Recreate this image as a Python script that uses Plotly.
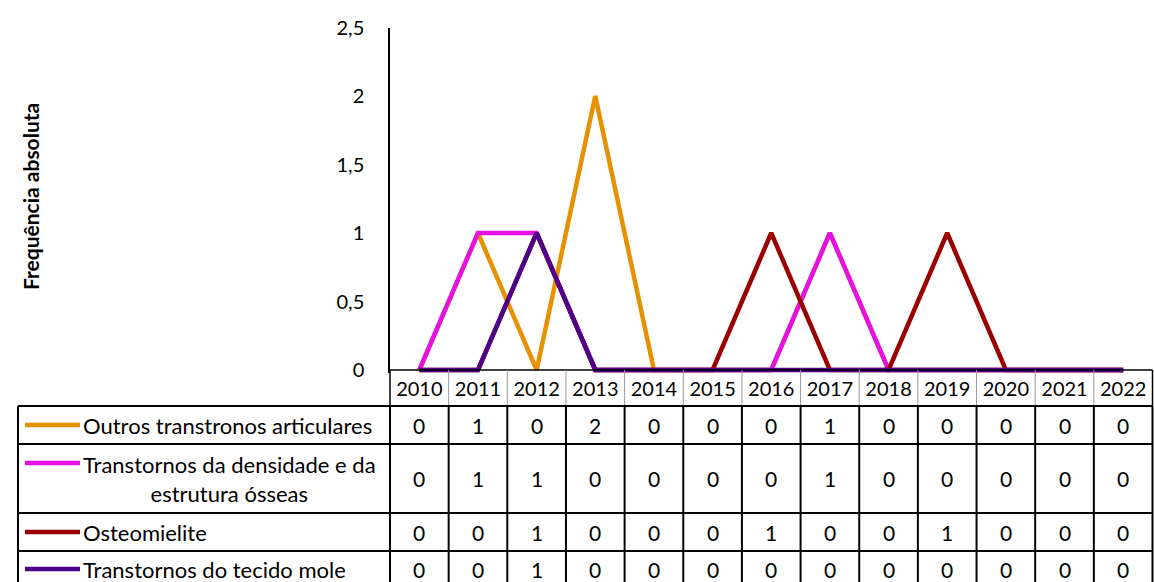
import plotly.graph_objects as go

# data
years = ["2010", "2011", "2012", "2013", "2014", "2015", "2016",
         "2017", "2018", "2019", "2020", "2021", "2022"]
series_names = ["Outros transtronos articulares",
                "Transtornos da densidade e da estrutura ósseas",
                "Osteomielite",
                "Transtornos do tecido mole"]
series_labels = ["Outros transtronos articulares",
                 "Transtornos da densidade e da<br>estrutura ósseas",
                 "Osteomielite",
                 "Transtornos do tecido mole"]
outros = [0, 1, 0, 2, 0, 0, 0, 1, 0, 0, 0, 0, 0]
densidade = [0, 1, 1, 0, 0, 0, 0, 1, 0, 0, 0, 0, 0]
osteomielite = [0, 0, 1, 0, 0, 0, 1, 0, 0, 1, 0, 0, 0]
tecido_mole = [0, 0, 1, 0, 0, 0, 0, 0, 0, 0, 0, 0, 0]
series_values = [outros, densidade, osteomielite, tecido_mole]
colors = ["#E69100", "#E60FE6", "#9B0000", "#4F0089"]

W, H = 1154, 582
FONT = "Lato"


def px(x):
    return x / W


def py(y):
    return 1 - y / H


# geometry in pixels
X0, X1 = 390, 1152.5           # plot / table columns
Y_TOP, Y_ZERO = 27.5, 370      # y=2.5 and y=0
unit = (Y_ZERO - Y_TOP) / 2.5
ymin = -0.025
Y_BOT = Y_ZERO - ymin * unit
row_edges = [406, 444, 513, 551, 590]
LEFT = 18
ncol = len(years)
cw = (X1 - X0) / ncol

fig = go.Figure()
for name, vals, col in zip(series_names, series_values, colors):
    fig.add_trace(go.Scatter(
        x=years, y=vals, name=name, mode="lines",
        line=dict(color=col, width=4.5),
        hovertemplate="%{x}: %{y}<extra>" + name + "</extra>",
    ))

shapes = []
# header top line
shapes.append(dict(type="line", xref="paper", yref="paper",
                   x0=px(X0), x1=px(X1), y0=py(Y_ZERO), y1=py(Y_ZERO),
                   line=dict(color="black", width=1.5)))
# header verticals
for k in range(ncol + 1):
    edge = k in (0, ncol)
    shapes.append(dict(type="line", xref="paper", yref="paper",
                       x0=px(X0 + k * cw), x1=px(X0 + k * cw),
                       y0=py(Y_ZERO), y1=py(row_edges[0]),
                       line=dict(color="black" if edge else "#9a9a9a",
                                 width=1.5 if edge else 1)))
# body horizontals
for y in row_edges[:-1]:
    shapes.append(dict(type="line", xref="paper", yref="paper",
                       x0=px(LEFT), x1=px(X1), y0=py(y), y1=py(y),
                       line=dict(color="black", width=2)))
# body verticals
for xpos in [LEFT] + [X0 + k * cw for k in range(ncol + 1)]:
    shapes.append(dict(type="line", xref="paper", yref="paper",
                       x0=px(xpos), x1=px(xpos),
                       y0=py(row_edges[0]), y1=py(row_edges[-1]),
                       line=dict(color="black", width=2)))

annotations = []
for r, (label, vals, col) in enumerate(zip(series_labels, series_values, colors)):
    yc = (row_edges[r] + row_edges[r + 1]) / 2
    if r == len(series_labels) - 1:
        yc = 569
    sym_y = yc if "<br>" not in label else 463
    shapes.append(dict(type="line", xref="paper", yref="paper",
                       x0=px(25), x1=px(80), y0=py(sym_y), y1=py(sym_y),
                       line=dict(color=col, width=4.5)))
    annotations.append(dict(xref="paper", yref="paper", x=px(81), y=py(yc),
                            xanchor="left", yanchor="middle", align="center",
                            text=label, showarrow=False,
                            font=dict(family=FONT, size=22, color="black")))
    # category axis: numeric x = category index
    for i, v in enumerate(vals):
        annotations.append(dict(xref="x", yref="paper", x=i, y=py(yc),
                                xanchor="center", yanchor="middle",
                                text=str(v), showarrow=False,
                                font=dict(family=FONT, size=21, color="black")))

annotations.append(dict(xref="paper", yref="paper", x=px(30), y=py(197),
                        text="<b>Frequência absoluta</b>", textangle=-90,
                        showarrow=False, xanchor="center", yanchor="middle",
                        font=dict(family=FONT, size=21, color="black")))

fig.update_layout(
    width=W, height=H,
    margin=dict(l=0, r=0, t=0, b=0),
    paper_bgcolor="white", plot_bgcolor="white",
    showlegend=False,
    separators=",.",
    font=dict(family=FONT, size=20, color="black"),
    shapes=shapes,
    annotations=annotations,
    xaxis=dict(domain=[px(X0), px(X1)], type="category", automargin=False,
               range=[-0.5, ncol - 0.5], showgrid=False, zeroline=False,
               showline=False, ticks="", ticklabelstandoff=2,
               tickfont=dict(family=FONT, size=20, color="black")),
    yaxis=dict(domain=[py(Y_BOT), py(Y_TOP)], range=[ymin, 2.5],
               automargin=False,
               tick0=0, dtick=0.5, showgrid=False, zeroline=False,
               showline=True, linecolor="black", linewidth=1.5,
               ticks="", ticklabelstandoff=20,
               tickfont=dict(family=FONT, size=20, color="black")),
)

fig.write_html("out.html", config={"displayModeBar": False},
               post_script="document.body.style.margin='0';")
